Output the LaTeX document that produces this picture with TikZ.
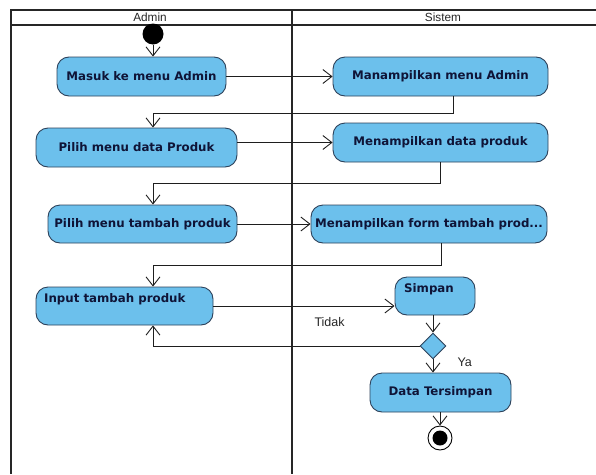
\documentclass[tikz,border=0pt]{standalone}
\usepackage{fontspec}
\setmainfont{Liberation Sans}
\newfontfamily\boxfont{DejaVu Sans}
\usetikzlibrary{arrows.meta,shapes.geometric,calc}
\definecolor{actfill}{RGB}{108,192,236}
\definecolor{actdraw}{RGB}{45,65,90}
\definecolor{acttext}{RGB}{15,20,55}
\definecolor{lineclr}{RGB}{30,30,30}
\tikzset{
  act/.style={draw=actdraw, line width=0.9pt, fill=actfill, rounded corners=12pt,
    inner sep=0pt, minimum height=39pt, text=acttext,
    font=\boxfont\bfseries\fontsize{11.8}{13}\selectfont},
  acttxt/.style={font=\boxfont\bfseries\fontsize{11.8}{13}\selectfont, text=acttext, inner sep=0pt},
  lane/.style={line width=2pt, draw=black!85},
  arr/.style={draw=lineclr, line width=0.9pt, -{Straight Barb[length=9pt,width=14pt,line width=0.9pt]}},
  lbl/.style={font=\fontsize{12.5}{14}\selectfont, text=black!85},
  hdr/.style={font=\fontsize{11.8}{13}\selectfont, text=black!85}
}
\begin{document}
\begin{tikzpicture}[x=1pt,y=-1pt]
\useasboundingbox (0,0) rectangle (596,474);
% swimlanes
\coordinate (tl) at (11,10);
\coordinate (tr) at (596,10);
\coordinate (hl) at (11,25);
\coordinate (hr) at (596,25);
\coordinate (bl) at (11,474);
\coordinate (dt) at (292,10);
\coordinate (db) at (292,474);
\draw[lane] (tr) -- (tl) -- (bl);
\draw[lane] (hl) -- (hr);
\draw[lane] (dt) -- (db);
\node[hdr] (hadmin) at (150,17.5) {Admin};
\node[hdr] (hsistem) at (443,17.5) {Sistem};
% nodes
\node[circle, fill=black, inner sep=0pt, minimum size=21pt] (start) at (153,34) {};
\node[act, minimum width=169pt] (a1) at (141.5,76.5) {Masuk ke menu Admin};
\node[act, minimum width=215pt] (s1) at (440.5,76.5) {Manampilkan menu Admin};
\node[act, minimum width=201pt] (a2) at (136.5,147.5) {Pilih menu data Produk};
\node[act, minimum width=215pt] (s2) at (440.5,142.5) {Menampilkan data produk};
\node[act, minimum width=189pt, minimum height=38pt] (a3) at (142.5,224) {Pilih menu tambah produk};
\node[act, minimum width=236pt, minimum height=38pt] (s3) at (429,224) {Menampilkan form tambah prod...};
\node[act, minimum width=177pt, minimum height=38pt] (a4) at (124.5,306) {};
\node[acttxt, anchor=west] (a4t) at (44,299) {Input tambah produk};
\node[act, minimum width=80pt, minimum height=38pt] (s4) at (435,296) {};
\node[acttxt] (s4t) at (429,289) {Simpan};
\node[diamond, draw=actdraw, line width=0.9pt, fill=actfill, inner sep=0pt, minimum width=26pt, minimum height=26pt] (d) at (433,346) {};
\node[act, minimum width=141pt] (s5) at (440.5,392.5) {Data Tersimpan};
\node[circle, draw=black, line width=0.9pt, fill=white, inner sep=0pt, minimum size=24pt] (endo) at (440,438) {};
\node[circle, fill=black, inner sep=0pt, minimum size=15pt] (endi) at (endo) {};
% junction coordinates
\coordinate (j1) at (153,113);
\coordinate (j2) at (153,183);
\coordinate (j3) at (153,265);
\coordinate (j4) at (153,346);
% connectors
\draw[arr] (start) -- (start |- a1.north);
\draw[arr] (a1.east) -- (s1.west);
\draw[arr] ([xshift=12.5pt]s1.south) |- (j1) -- (j1 |- a2.north);
\draw[arr] (a2.east |- s2.west) -- (s2.west);
\draw[arr] (s2.south) |- (j2) -- (j2 |- a3.north);
\draw[arr] (a3.east) -- (s3.west);
\draw[arr] ([xshift=12pt]s3.south) |- (j3) -- (j3 |- a4.north);
\draw[arr] (a4.east) -- (a4.east -| s4.west);
\draw[arr] (d.north |- s4.south) -- (d.north);
\draw[arr] (d.west) -- (j4) -- (j4 |- a4.south);
\draw[arr] (d.south) -- (d.south |- s5.north);
\draw[arr] (endo.center |- s5.south) -- (endo.north);
% labels
\node[lbl, anchor=west] (tidak) at (311,322) {Tidak};
\node[lbl, anchor=west] (ya) at (454,362) {Ya};
\end{tikzpicture}
\end{document}
